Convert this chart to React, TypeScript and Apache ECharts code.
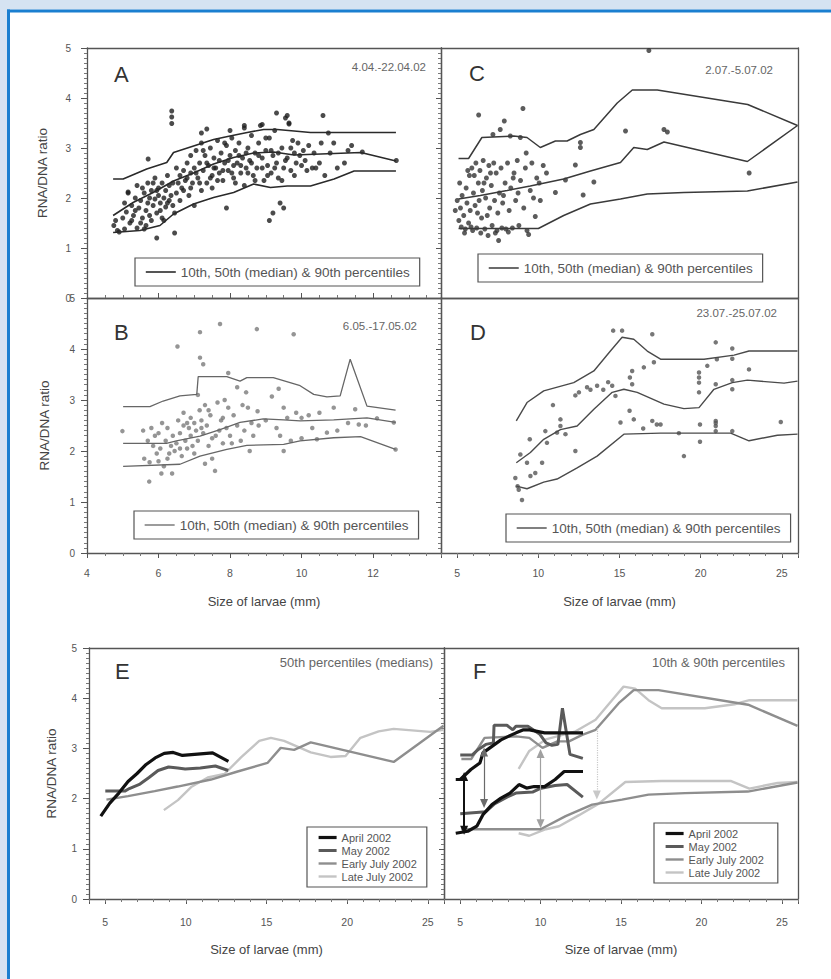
import React, { useEffect, useRef } from "react";
import * as echarts from "echarts";

type Pt = [number, number];

// ---------------- text / tick labels ----------------
const yTickLabels = [0, 1, 2, 3, 4, 5];
const xTickLabelsAB = [4, 6, 8, 10, 12];
const xTickLabelsCDEF = [5, 10, 15, 20, 25];
const pctName = "10th, 50th (median) & 90th percentiles";
const periods = ["April 2002", "May 2002", "Early July 2002", "Late July 2002"];
const yName = "RNA/DNA ratio";
const xName = "Size of larvae (mm)";
const noteA = "4.04.-22.04.02";
const noteB = "6.05.-17.05.02";
const noteC = "2.07.-5.07.02";
const noteD = "23.07.-25.07.02";
const noteE = "50th percentiles (medians)";
const noteF = "10th & 90th percentiles";

// ---------------- Panel A (April) ----------------
const aPoints: Pt[] = [
  [4.75, 1.45], [4.8, 1.55], [4.85, 1.35], [4.9, 1.32], [5.0, 1.6], [5.05, 1.38], [5.1, 1.72], [5.15, 2.1],
  [5.2, 1.5], [5.25, 1.85], [5.3, 1.65], [5.35, 2.0], [5.4, 1.4], [5.4, 2.25], [5.45, 1.8], [5.5, 1.95],
  [5.55, 1.6], [5.6, 2.1], [5.6, 1.38], [5.65, 1.75], [5.7, 2.3], [5.7, 1.9], [5.75, 2.0], [5.8, 1.55],
  [5.8, 2.15], [5.85, 1.85], [5.9, 2.4], [5.9, 1.98], [5.95, 1.2], [5.95, 1.7], [6.0, 2.05], [6.0, 2.2],
  [6.05, 1.9], [6.1, 2.3], [6.1, 1.6], [6.15, 2.0], [6.2, 2.15], [6.2, 1.82], [6.25, 2.45], [6.3, 1.95],
  [6.35, 2.05], [6.4, 2.3], [6.45, 1.3], [6.45, 1.7], [6.5, 2.1], [6.5, 2.6], [5.71, 2.78], [5.15, 2.12],
  [6.6, 2.45], [6.65, 2.2], [6.7, 2.55], [6.75, 2.35], [6.8, 2.7], [6.85, 2.05], [6.9, 2.5], [6.9, 2.85],
  [6.95, 2.3], [7.0, 2.6], [7.0, 1.85], [7.05, 2.95], [7.1, 2.4], [7.15, 2.7], [7.2, 2.15], [7.2, 3.1],
  [7.25, 2.55], [7.3, 2.85], [7.35, 2.3], [7.4, 2.65], [7.45, 3.0], [7.5, 2.45], [7.5, 2.2], [7.55, 2.8],
  [7.6, 2.6], [7.65, 3.15], [7.7, 2.5], [7.75, 2.9], [7.8, 2.35], [7.85, 2.7], [7.9, 3.05], [7.9, 1.8],
  [7.95, 2.55], [8.0, 2.85], [8.05, 3.2], [8.1, 2.65], [8.1, 2.4], [8.15, 2.95], [8.2, 2.7], [8.25, 3.1],
  [8.3, 2.5], [8.35, 2.8], [8.4, 3.4], [8.4, 2.25], [8.45, 2.6], [8.5, 3.0], [8.55, 2.75], [8.6, 3.25],
  [8.65, 2.45], [8.7, 2.9], [8.75, 2.6], [8.8, 3.1], [8.85, 3.45], [8.9, 2.8], [8.95, 2.35], [9.0, 2.95],
  [9.05, 2.65], [9.1, 3.2], [9.1, 1.55], [9.15, 2.5], [9.2, 2.85], [9.2, 1.7], [9.25, 3.35], [9.3, 2.7],
  [9.3, 3.7], [9.35, 2.4], [9.4, 1.9], [9.45, 3.0], [9.5, 2.6], [9.5, 1.8], [9.55, 3.6], [9.6, 2.8],
  [9.65, 3.5], [9.7, 2.55], [9.75, 3.15], [9.8, 2.9], [9.85, 2.7], [9.9, 3.1], [10.0, 2.65], [10.05, 2.95],
  [10.1, 2.75], [10.2, 3.05], [10.3, 2.6], [10.4, 2.6], [10.55, 3.1], [10.6, 3.65], [10.75, 3.3], [10.8, 2.9],
  [11.2, 2.7], [11.4, 3.05], [11.7, 2.92], [12.65, 2.75], [6.37, 3.74], [6.37, 3.62], [6.37, 3.49],
  [7.2, 3.3], [7.35, 3.38], [8.0, 3.35], [8.4, 3.45], [8.9, 3.47], [9.6, 3.65], [9.65, 3.48],
  [5.05, 1.9], [5.25, 1.55], [5.35, 1.75], [5.5, 1.5], [5.55, 2.2], [5.65, 1.45], [5.75, 1.65], [5.85, 2.3],
  [5.95, 2.15], [6.05, 1.75], [6.15, 1.55], [6.25, 1.9], [6.3, 2.25], [6.4, 1.85], [6.55, 2.3], [6.6, 1.95],
  [6.7, 2.15], [6.8, 2.4], [6.9, 2.2], [7.05, 2.5], [7.15, 2.3], [7.25, 2.95], [7.35, 2.7], [7.45, 2.4],
  [7.55, 2.6], [7.65, 2.35], [7.7, 2.75], [7.8, 2.55], [7.85, 3.1], [7.95, 2.75], [8.05, 2.5], [8.15, 2.3],
  [8.25, 2.85], [8.3, 2.65], [8.45, 2.9], [8.5, 2.5], [8.6, 2.7], [8.7, 2.35], [8.8, 2.85], [8.9, 2.6],
  [9.0, 3.2], [9.05, 2.45], [9.15, 2.95], [9.25, 2.6], [9.35, 2.9], [9.45, 2.35], [9.55, 2.75], [9.7, 3.0],
  [9.8, 2.45], [9.95, 2.85], [10.15, 2.55], [10.35, 2.9], [10.5, 2.7], [10.65, 2.45], [10.9, 3.1], [11.0, 2.6],
  [11.3, 2.95],
];
const a90: Pt[] = [
  [4.73, 2.38], [5.01, 2.38], [5.67, 2.58], [6.23, 2.71], [6.42, 2.91], [6.98, 3.04], [7.54, 3.17], [8.0, 3.24],
  [8.48, 3.31], [8.94, 3.37], [9.32, 3.37], [9.79, 3.34], [10.25, 3.31], [10.82, 3.31], [12.64, 3.31],
];
const a50: Pt[] = [
  [4.73, 1.65], [5.29, 1.91], [5.85, 2.11], [6.42, 2.34], [6.98, 2.5], [7.54, 2.68], [8.1, 2.81], [8.66, 2.9],
  [9.22, 2.92], [9.79, 2.86], [10.54, 2.88], [11.66, 2.91], [12.64, 2.74],
];
const a10: Pt[] = [
  [4.73, 1.31], [5.48, 1.35], [6.04, 1.45], [6.42, 1.68], [6.98, 1.88], [7.54, 2.01], [8.1, 2.11], [8.66, 2.28],
  [9.13, 2.21], [9.6, 2.24], [10.25, 2.24], [10.91, 2.38], [11.47, 2.54], [12.64, 2.54],
];

// ---------------- Panel B (May) ----------------
const bPoints: Pt[] = [
  [4.99, 2.39], [5.57, 2.4], [5.74, 1.4], [5.6, 1.85], [5.7, 2.2], [5.75, 1.78], [5.85, 2.1], [5.9, 2.3],
  [5.95, 1.95], [6.0, 1.8], [6.05, 2.05], [6.08, 1.56], [6.1, 2.55], [6.15, 1.7], [6.2, 2.2], [6.25, 2.45],
  [6.3, 1.95], [6.35, 2.1], [6.38, 1.56], [6.4, 2.3], [6.45, 2.0], [6.5, 2.15], [6.55, 2.6], [6.53, 4.05],
  [6.6, 2.35], [6.65, 1.9], [6.7, 2.5], [6.7, 2.75], [6.75, 2.2], [6.8, 2.05], [6.85, 2.45], [6.9, 2.65],
  [6.9, 2.3], [6.95, 2.1], [7.0, 2.55], [7.05, 2.4], [7.1, 3.1], [7.1, 2.2], [7.15, 2.8], [7.16, 4.33],
  [7.16, 3.83], [7.25, 3.7], [7.2, 2.6], [7.25, 2.35], [7.3, 1.75], [7.3, 2.9], [7.35, 2.5], [7.4, 2.1],
  [7.45, 2.7], [7.5, 2.25], [7.5, 1.85], [7.58, 1.61], [7.65, 2.95], [7.7, 2.4], [7.72, 4.49], [7.75, 2.6],
  [7.8, 2.15], [7.85, 3.0], [7.9, 2.45], [7.95, 3.53], [7.95, 2.85], [8.0, 2.3], [8.1, 2.7], [8.2, 3.25],
  [8.2, 2.5], [8.3, 2.2], [8.35, 2.9], [8.45, 3.15], [8.5, 2.85], [8.55, 2.0], [8.6, 2.55], [8.75, 4.39],
  [8.77, 2.78], [8.8, 2.5], [9.17, 3.07], [9.36, 3.22], [9.3, 2.45], [9.4, 2.3], [9.5, 2.0], [9.5, 2.85],
  [9.7, 2.2], [9.78, 4.29], [9.85, 2.75], [10.0, 2.65], [10.0, 2.25], [10.2, 2.7], [10.43, 2.23], [10.5, 2.75],
  [10.71, 2.36], [10.9, 2.85], [11.3, 2.55], [11.5, 2.82], [11.6, 2.52], [12.11, 2.64], [12.58, 2.56], [12.63, 2.03],
  [5.8, 2.45], [6.0, 2.35], [6.25, 1.85], [6.6, 2.05], [6.8, 2.55], [7.0, 1.95], [7.2, 2.45], [7.4, 2.8],
  [7.6, 2.3], [7.8, 2.65], [8.05, 2.15], [8.4, 2.4], [8.65, 2.3], [9.0, 2.6], [9.6, 2.65], [10.3, 2.45],
  [11.0, 2.4], [11.8, 2.5],
];
const b90: Pt[] = [
  [5.01, 2.87], [5.76, 2.87], [6.13, 2.98], [6.6, 3.08], [7.07, 3.11], [7.11, 3.46], [7.91, 3.46], [8.28, 3.37],
  [8.47, 3.44], [9.21, 3.44], [9.68, 3.34], [9.96, 3.28], [10.34, 3.11], [10.71, 3.06], [11.08, 3.08], [11.36, 3.8],
  [11.83, 2.88], [12.63, 2.8],
];
const b50: Pt[] = [
  [5.01, 2.15], [6.22, 2.15], [6.5, 2.2], [7.16, 2.29], [7.72, 2.42], [8.28, 2.56], [8.93, 2.63], [9.5, 2.61],
  [9.96, 2.59], [10.9, 2.61], [11.83, 2.65], [12.63, 2.56],
];
const b10: Pt[] = [
  [5.01, 1.7], [6.6, 1.74], [7.16, 1.9], [7.91, 2.03], [8.47, 2.11], [9.5, 2.13], [9.96, 2.2], [10.9, 2.26],
  [11.65, 2.28], [12.63, 2.03],
];

// ---------------- Panel C (early July) ----------------
const cPoints: Pt[] = [
  [4.88, 1.75], [5.0, 1.95], [5.1, 1.55], [5.2, 1.8], [5.25, 1.42], [5.3, 2.05], [5.4, 1.65], [5.5, 1.38],
  [5.55, 2.2], [5.6, 1.9], [5.7, 1.5], [5.75, 2.45], [5.8, 1.75], [5.9, 2.6], [5.95, 1.35], [6.0, 2.1],
  [6.1, 1.85], [6.15, 2.7], [6.2, 1.4], [6.3, 2.3], [6.32, 3.66], [6.35, 1.95], [6.4, 2.55], [6.5, 1.6],
  [6.55, 2.15], [6.6, 2.75], [6.7, 1.38], [6.75, 2.0], [6.8, 2.4], [6.9, 1.25], [6.95, 2.65], [7.0, 1.8],
  [7.1, 2.25], [7.15, 1.45], [7.2, 3.27], [7.25, 2.7], [7.3, 1.95], [7.35, 1.3], [7.4, 2.5], [7.5, 1.7],
  [7.55, 1.15], [7.6, 2.1], [7.65, 3.37], [7.7, 2.6], [7.75, 1.4], [7.8, 1.9], [7.9, 3.54], [7.95, 2.3],
  [8.0, 1.38], [8.1, 2.7], [8.2, 1.75], [8.27, 3.24], [8.3, 2.2], [8.4, 1.4], [8.5, 2.5], [8.6, 1.95],
  [8.7, 2.75], [8.8, 1.45], [8.89, 3.21], [8.9, 2.35], [9.05, 3.79], [9.1, 1.8], [9.2, 2.6], [9.3, 1.35],
  [9.4, 1.27], [9.5, 2.15], [9.6, 2.7], [9.81, 1.63], [9.9, 2.4], [10.12, 1.95], [10.3, 2.65], [10.5, 2.5],
  [11.05, 2.11], [11.67, 2.36], [12.28, 2.66], [12.59, 3.11], [12.59, 3.01], [12.76, 2.06], [13.42, 2.32],
  [15.37, 3.34], [16.81, 4.95], [17.74, 3.37], [17.95, 3.32], [22.99, 2.5],
  [5.15, 2.3], [5.45, 1.3], [5.65, 2.55], [5.85, 1.42], [6.05, 2.45], [6.25, 1.7], [6.45, 1.3], [6.65, 2.3],
  [6.85, 1.65], [7.05, 2.5], [7.45, 1.35], [7.85, 2.05], [8.15, 1.32], [8.45, 2.4], [8.75, 2.1], [9.25, 2.9],
  [9.7, 2.0], [10.05, 2.3],
];
const c90: Pt[] = [
  [5.08, 2.79], [5.7, 2.79], [6.52, 3.21], [8.48, 3.24], [9.3, 3.21], [10.12, 3.01], [11.05, 3.14], [11.77, 3.14],
  [12.59, 3.27], [13.42, 3.37], [14.86, 3.9], [15.79, 4.16], [17.33, 4.16], [22.9, 3.87], [25.97, 3.45],
];
const c50: Pt[] = [
  [5.08, 1.98], [6.42, 2.05], [8.07, 2.15], [9.5, 2.24], [11.56, 2.38], [13.21, 2.54], [15.06, 2.71], [15.88, 3.01],
  [16.71, 2.97], [17.74, 3.12], [22.88, 2.73], [25.97, 3.45],
];
const c10: Pt[] = [
  [5.08, 1.39], [10.0, 1.39], [11.56, 1.65], [13.21, 1.88], [15.06, 1.98], [16.71, 2.08], [18.97, 2.11], [22.88, 2.14],
  [25.97, 2.32],
];

// ---------------- Panel D (late July) ----------------
const dPoints: Pt[] = [
  [14.61, 4.36], [15.16, 4.36], [17.02, 4.29], [20.93, 4.13], [21.95, 4.01], [21.95, 3.81], [21.0, 3.8], [20.41, 3.67],
  [22.98, 3.6], [17.12, 3.74], [16.5, 3.64], [15.78, 3.57], [15.78, 3.31], [15.64, 3.44], [13.62, 3.28], [13.21, 3.2],
  [12.28, 3.09], [10.9, 2.9], [14.55, 3.28], [14.75, 3.08], [19.9, 3.54], [19.9, 3.44], [19.9, 3.34], [19.9, 3.15],
  [20.93, 3.31], [21.95, 3.39], [21.95, 3.21], [15.06, 2.56], [15.62, 2.79], [15.88, 2.62], [16.46, 2.44], [17.02, 2.59],
  [17.53, 2.52], [18.66, 2.35], [18.97, 1.9], [19.96, 2.52], [19.96, 2.18], [20.93, 2.59], [20.93, 2.49], [20.93, 2.39],
  [21.95, 2.39], [24.94, 2.57], [12.28, 2.0], [11.36, 2.62], [11.36, 2.49], [11.15, 2.36], [11.67, 2.33], [10.43, 2.39],
  [10.53, 2.16], [10.23, 1.77], [9.47, 2.23], [8.89, 1.93], [9.3, 1.77], [9.51, 1.51], [9.81, 1.57], [8.58, 1.47],
  [8.72, 1.31], [8.99, 1.04], [8.79, 1.24], [14.0, 3.2], [13.0, 3.25], [12.5, 3.15], [14.3, 3.35], [20.93, 2.55],
  [17.3, 2.52],
];
const d90: Pt[] = [
  [8.64, 2.59], [9.3, 2.95], [10.33, 3.18], [12.18, 3.34], [13.42, 3.57], [14.44, 3.96], [15.16, 4.23], [15.88, 4.19],
  [16.71, 3.96], [17.53, 3.8], [20.21, 3.8], [22.06, 3.88], [22.98, 3.96], [25.97, 3.96],
];
const d50: Pt[] = [
  [8.64, 1.77], [9.51, 1.97], [10.33, 2.23], [11.36, 2.42], [12.39, 2.49], [13.42, 2.82], [14.55, 3.15], [15.27, 3.21],
  [16.09, 3.15], [17.74, 2.92], [18.97, 2.83], [19.9, 2.85], [20.82, 3.21], [21.95, 3.34], [22.88, 3.39], [25.14, 3.33],
  [25.97, 3.37],
];
const d10: Pt[] = [
  [8.64, 1.31], [9.3, 1.26], [10.33, 1.39], [11.15, 1.45], [12.39, 1.67], [13.62, 1.9], [15.27, 2.33], [17.53, 2.35],
  [21.85, 2.35], [22.98, 2.2], [24.73, 2.31], [25.97, 2.33],
];

// ---------------- Panel F arrows: [size, upper ratio, lower ratio] ----------------
const arrowApril = [5.25, 2.44, 1.37];
const arrowMay = [6.49, 2.93, 1.9];
const arrowEarly = [10.0, 2.9, 1.5];
const arrowLate = [13.5, 3.4, 2.07];

// ---------------- styling ----------------
const FONT = "'Liberation Sans', Arial, Helvetica, sans-serif";
const AX = "#555";
const LBL = "#555";
const periodColors = ["#111111", "#5a5a5a", "#8e8e8e", "#c4c4c4"];
const periodWidths = [3.2, 3, 2.4, 2.4];
const HIDDEN = "rgba(0,0,0,0)";

function buildOption() {
  const grids = [
    { left: 87, top: 48, width: 354, height: 250 }, // A
    { left: 441, top: 48, width: 357, height: 250 }, // C
    { left: 87, top: 298, width: 354, height: 255 }, // B
    { left: 441, top: 298, width: 357, height: 255 }, // D
    { left: 89, top: 648, width: 355, height: 251 }, // E
    { left: 444, top: 648, width: 354, height: 251 }, // F
  ];

  const xAxes: any[] = [];
  const yAxes: any[] = [];
  const idx: { x: number; y: number }[] = [];

  const lineStyle = { color: AX, width: 1.3 };

  type Cfg = {
    ab: boolean;
    xLabels: boolean;
    xLabelMargin?: number;
    xTicks: "out" | "in" | "none";
    xName?: boolean;
    xNameGap?: number;
    yLabels: boolean;
    yLabelMargin?: number;
    yNameGap?: number;
    rightTicks: boolean;
  };

  const add = (g: number, c: Cfg) => {
    const xi = xAxes.length;
    const labelSet = c.ab ? xTickLabelsAB : xTickLabelsCDEF;
    const xMain: any = {
      type: "value",
      gridIndex: g,
      position: "bottom",
      min: 4,
      max: c.ab ? 13.9 : 26,
      axisLine: { show: true, onZero: false, lineStyle },
      axisTick: { show: c.xTicks !== "none", inside: c.xTicks === "in", length: 5, lineStyle: { color: AX } },
      minorTick: { show: c.ab && c.xTicks !== "none", splitNumber: 4, length: 3, lineStyle: { color: "#777" } },
      axisLabel: {
        show: c.xLabels,
        margin: c.xLabelMargin ?? 14,
        color: LBL,
        fontSize: 10.5,
        fontFamily: FONT,
        formatter: (v: number) => (labelSet.includes(v) ? String(v) : ""),
      },
      splitLine: { show: false },
      minorSplitLine: { show: false },
    };
    if (c.ab) xMain.interval = 2;
    if (c.xName) {
      xMain.name = xName;
      xMain.nameLocation = "middle";
      xMain.nameGap = c.xNameGap ?? 42;
      xMain.nameTextStyle = { color: "#444", fontSize: 13, fontFamily: FONT };
    }
    xAxes.push(xMain);
    xAxes.push({
      type: "value",
      gridIndex: g,
      position: "top",
      min: 4,
      max: c.ab ? 13.9 : 26,
      axisLine: { show: true, onZero: false, lineStyle },
      axisTick: { show: false },
      axisLabel: { show: false },
      splitLine: { show: false },
    });
    if (!c.ab && c.xTicks !== "none") {
      xAxes.push({
        type: "value",
        gridIndex: g,
        position: "bottom",
        min: 4,
        max: 26,
        interval: 1,
        axisLine: { show: false },
        axisTick: { show: true, inside: c.xTicks === "in", length: 3, lineStyle: { color: "#777" } },
        axisLabel: { show: false },
        splitLine: { show: false },
      });
    }
    const yi = yAxes.length;
    const yLeft: any = {
      type: "value",
      gridIndex: g,
      position: "left",
      min: 0,
      max: 5,
      interval: 1,
      axisLine: { show: true, onZero: false, lineStyle },
      axisTick: { show: c.yLabels, inside: false, length: 6, lineStyle: { color: AX } },
      minorTick: { show: c.yLabels, splitNumber: 10, length: 3, lineStyle: { color: "#777" } },
      axisLabel: {
        show: c.yLabels,
        margin: c.yLabelMargin ?? 13,
        color: LBL,
        fontSize: 10,
        fontFamily: FONT,
        formatter: (v: number) => (yTickLabels.includes(v) ? String(v) : ""),
      },
      splitLine: { show: false },
      minorSplitLine: { show: false },
    };
    if (c.yLabels) {
      yLeft.name = yName;
      yLeft.nameLocation = "middle";
      yLeft.nameGap = c.yNameGap ?? 38;
      yLeft.nameRotate = 90;
      yLeft.nameTextStyle = { color: "#444", fontSize: 13.5, fontFamily: FONT };
    }
    yAxes.push(yLeft);
    yAxes.push({
      type: "value",
      gridIndex: g,
      position: "right",
      min: 0,
      max: 5,
      interval: 1,
      axisLine: { show: true, onZero: false, lineStyle },
      axisTick: { show: c.rightTicks, inside: true, length: 5, lineStyle: { color: AX } },
      minorTick: { show: c.rightTicks, splitNumber: 10, length: 3, lineStyle: { color: "#777" } },
      axisLabel: { show: false },
      splitLine: { show: false },
      minorSplitLine: { show: false },
    });
    idx[g] = { x: xi, y: yi };
  };

  add(0, { ab: true, xLabels: false, xTicks: "in", yLabels: true, yLabelMargin: 16, yNameGap: 38, rightTicks: true });
  add(1, { ab: false, xLabels: false, xTicks: "none", yLabels: false, rightTicks: false });
  add(2, { ab: true, xLabels: true, xLabelMargin: 14, xTicks: "out", xName: true, xNameGap: 42, yLabels: true, yLabelMargin: 12, yNameGap: 36, rightTicks: true });
  add(3, { ab: false, xLabels: true, xLabelMargin: 14, xTicks: "out", xName: true, xNameGap: 42, yLabels: false, rightTicks: false });
  add(4, { ab: false, xLabels: true, xLabelMargin: 17, xTicks: "out", xName: true, xNameGap: 44, yLabels: true, yLabelMargin: 12, yNameGap: 31, rightTicks: true });
  add(5, { ab: false, xLabels: true, xLabelMargin: 17, xTicks: "out", xName: true, xNameGap: 44, yLabels: false, rightTicks: false });

  const series: any[] = [];
  const scatter = (name: string, data: Pt[], g: number, color: string, size: number) =>
    series.push({
      type: "scatter",
      name,
      data,
      xAxisIndex: idx[g].x,
      yAxisIndex: idx[g].y,
      symbol: "circle",
      symbolSize: size,
      itemStyle: { color },
      silent: true,
    });
  const line = (name: string, data: Pt[], g: number, color: string, width: number) =>
    series.push({
      type: "line",
      name,
      data,
      xAxisIndex: idx[g].x,
      yAxisIndex: idx[g].y,
      symbol: "none",
      lineStyle: { color, width },
      itemStyle: { color },
      silent: true,
      z: 3,
    });

  // A
  scatter("A samples", aPoints, 0, "#1e1e1e", 5);
  line(pctName, a10, 0, "#2a2a2a", 1.6);
  line(pctName, a50, 0, "#2a2a2a", 1.6);
  line(pctName, a90, 0, "#2a2a2a", 1.6);
  // C
  scatter("C samples", cPoints, 1, "#333333", 5);
  line(pctName, c10, 1, "#3a3a3a", 1.5);
  line(pctName, c50, 1, "#3a3a3a", 1.5);
  line(pctName, c90, 1, "#3a3a3a", 1.5);
  // B
  scatter("B samples", bPoints, 2, "#7a7a7a", 4.5);
  line(pctName, b10, 2, "#666666", 1.3);
  line(pctName, b50, 2, "#666666", 1.3);
  line(pctName, b90, 2, "#666666", 1.3);
  // D
  scatter("D samples", dPoints, 3, "#555555", 4.5);
  line(pctName, d10, 3, "#4a4a4a", 1.4);
  line(pctName, d50, 3, "#4a4a4a", 1.4);
  line(pctName, d90, 3, "#4a4a4a", 1.4);

  // E medians
  const medians = [a50, b50, c50, d50];
  const lows = [a10, b10, c10, d10];
  const highs = [a90, b90, c90, d90];
  [3, 2, 1, 0].forEach((i) => line(periods[i], medians[i], 4, periodColors[i], periodWidths[i]));
  // F 10th & 90th
  [3, 2, 1, 0].forEach((i) => {
    line(periods[i], lows[i], 5, periodColors[i], periodWidths[i]);
    line(periods[i], highs[i], 5, periodColors[i], periodWidths[i]);
  });
  // F arrows
  const arrows = [arrowApril, arrowMay, arrowEarly, arrowLate];
  const arrowStyles = [
    { color: "#111111", width: 2, type: "solid", sym: ["triangle", "triangle"] },
    { color: "#6a6a6a", width: 1.2, type: "solid", sym: ["triangle", "triangle"] },
    { color: "#a0a0a0", width: 1.2, type: "solid", sym: ["triangle", "triangle"] },
    { color: "#c8c8c8", width: 1.2, type: "dotted", sym: ["none", "triangle"] },
  ];
  arrows.forEach((a, i) => {
    const s = arrowStyles[i];
    series.push({
      type: "line",
      name: "F range " + periods[i],
      data: [],
      xAxisIndex: idx[5].x,
      yAxisIndex: idx[5].y,
      silent: true,
      markLine: {
        silent: true,
        animation: false,
        symbol: s.sym,
        symbolSize: [8, 9],
        label: { show: false },
        lineStyle: { color: s.color, width: s.width, type: s.type },
        data: [[{ coord: [a[0], a[1]] }, { coord: [a[0], a[2]] }]],
      },
      z: 4,
    });
  });

  const pctLegend = (left: number, top: number, color: string, width: number, padR: number) => ({
    left,
    top,
    orient: "horizontal",
    padding: [7, padR, 7, 10],
    borderColor: "#555",
    borderWidth: 1.2,
    itemWidth: 30,
    itemHeight: 12,
    selectedMode: false,
    textStyle: { color: "#555", fontSize: 13.5, fontFamily: FONT },
    data: [{ name: pctName, lineStyle: { color, width }, itemStyle: { color: HIDDEN, borderColor: HIDDEN, borderWidth: 0 } }],
  });

  const periodLegend = (left: number, top: number, padR: number) => ({
    left,
    top,
    orient: "vertical",
    padding: [5, padR, 5, 10],
    borderColor: "#555",
    borderWidth: 1.2,
    itemWidth: 18,
    itemHeight: 11,
    itemGap: 2,
    selectedMode: false,
    textStyle: { color: "#555", fontSize: 11, lineHeight: 11, fontFamily: FONT },
    data: periods.map((p, i) => ({
      name: p,
      lineStyle: { color: periodColors[i], width: periodWidths[i] },
      itemStyle: { color: HIDDEN, borderColor: HIDDEN, borderWidth: 0 },
    })),
  });

  const letter = (text: string, left: number, top: number) => ({
    text,
    left,
    top,
    padding: 0,
    textStyle: { fontSize: 22, fontWeight: "normal", color: "#333", fontFamily: FONT },
  });
  const note = (text: string, right: number, top: number, size: number) => ({
    text,
    right,
    top,
    padding: 0,
    textStyle: { fontSize: size, fontWeight: "normal", color: "#666", fontFamily: FONT },
  });

  const lightBlue = "#d5e3f2";
  const blue = "#1a7fd0";

  return {
    animation: false,
    backgroundColor: "#ffffff",
    textStyle: { fontFamily: FONT },
    grid: grids,
    xAxis: xAxes,
    yAxis: yAxes,
    series,
    legend: [
      pctLegend(135, 258, "#2a2a2a", 1.6, 10),
      pctLegend(478, 254, "#3a3a3a", 1.5, 10),
      pctLegend(134, 511, "#666666", 1.3, 10),
      pctLegend(506, 514, "#4a4a4a", 1.4, 10),
      periodLegend(307, 827, 10),
      periodLegend(654, 823, 14),
    ],
    title: [
      letter("A", 114, 63),
      letter("C", 469, 62),
      letter("B", 114, 321),
      letter("D", 470, 321),
      letter("E", 115, 660),
      letter("F", 473, 660),
      note(noteA, 405, 61, 11.5),
      note(noteC, 58, 64, 11.5),
      note(noteB, 414, 320, 11.5),
      note(noteD, 54, 307, 11.5),
      note(noteE, 398, 656, 13),
      note(noteF, 46, 656, 13),
    ],
    graphic: [
      { type: "rect", silent: true, shape: { x: 0, y: 0, width: 831, height: 9.5 }, style: { fill: lightBlue } },
      { type: "rect", silent: true, shape: { x: 0, y: 0, width: 7, height: 979 }, style: { fill: lightBlue } },
      { type: "rect", silent: true, shape: { x: 7, y: 9.5, width: 824, height: 3 }, style: { fill: blue } },
      { type: "rect", silent: true, shape: { x: 7, y: 9.5, width: 3, height: 970 }, style: { fill: blue } },
    ],
  };
}

export default function App() {
  const ref = useRef<HTMLDivElement>(null);
  useEffect(() => {
    if (!ref.current) return;
    const chart = echarts.init(ref.current, undefined, { renderer: "svg" });
    chart.setOption(buildOption() as any);
    return () => chart.dispose();
  }, []);
  return (
    <div
      ref={ref}
      style={{ position: "absolute", left: 0, top: 0, width: 831, height: 979 }}
    />
  );
}
